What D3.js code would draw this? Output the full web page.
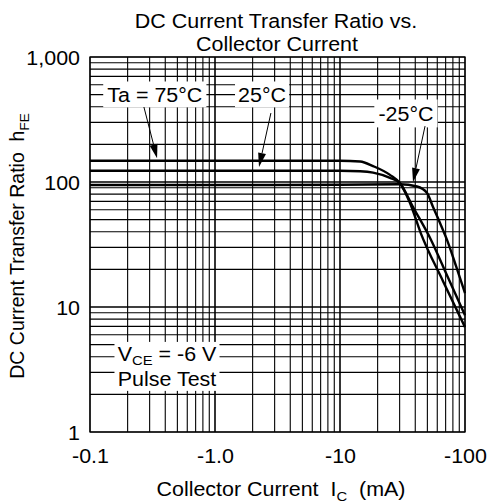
<!DOCTYPE html>
<html><head><meta charset="utf-8">
<script src="https://cdn.jsdelivr.net/npm/d3@7"></script>
<style>
body{margin:0;background:#fff;}
text{font-family:"Liberation Sans",Arial,sans-serif;fill:#000;white-space:pre;}
</style></head>
<body><svg id="c" width="489" height="503"></svg>
<script>
// ---- data ----
const xTickValues = [0.1, 1, 10, 100];
const xTickLabels = ["-0.1", "-1.0", "-10", "-100"];
const yTickValues = [1, 10, 100, 1000];
const yTickLabels = ["1", "10", "100", "1,000"];

const ic75  = [0.1, 1, 10, 14.5, 18.4, 25.1, 30.2, 36.3, 44.5, 66.7, 100];
const hfe75 = [148, 148, 148, 146, 134, 114, 97.6, 67.9, 38.5, 16.1, 6.9];

const ic25  = [0.1, 1, 10, 14.5, 18.4, 25.1, 30.2, 38.4, 53.5, 73.1, 100];
const hfe25 = [123, 123, 123, 122, 119, 108, 97.6, 63, 34.4, 17.2, 8.6];

const icM25  = [0.1, 1, 10, 30.2, 41.3, 49.7, 55.5, 63.1, 71.8, 84.7, 100];
const hfeM25 = [94.6, 94.6, 95, 96, 92, 81.7, 63, 47, 34.4, 21.3, 12.9];

const seriesNames = ["Ta = 75°C", "25°C", "-25°C"];

// ---- layout ----
const FS = 19.5, SX = 1.1, SUB = 13.5;
const svg = d3.select("#c");
const L = 90, R = 465, T = 57, B = 432;
const x = d3.scaleLog().domain([0.1, 100]).range([L, R]);
const y = d3.scaleLog().domain([1, 1000]).range([B, T]);

function stretch(sel, ax) {
  sel.attr("transform", `translate(${ax},0) scale(${SX},1) translate(${-ax},0)`);
}

// grid
const minor = [];
[0.1, 1, 10].forEach(d => { for (let k = 1; k <= 10; k++) minor.push(d * k); });
const minorY = [];
[1, 10, 100].forEach(d => { for (let k = 1; k <= 10; k++) minorY.push(d * k); });
const g = svg.append("g");
g.selectAll("line.vx").data(minor).enter().append("line")
  .attr("x1", d => x(d)).attr("x2", d => x(d)).attr("y1", T).attr("y2", B)
  .attr("stroke", "#000").attr("stroke-width", 1.1);
g.selectAll("line.hy").data(minorY).enter().append("line")
  .attr("y1", d => y(d)).attr("y2", d => y(d)).attr("x1", L).attr("x2", R)
  .attr("stroke", "#000").attr("stroke-width", 1.1);
g.append("rect").attr("x", L).attr("y", T).attr("width", R - L).attr("height", B - T)
  .attr("fill", "none").attr("stroke", "#000").attr("stroke-width", 1.3);

// axes labels
const xAxis = d3.axisBottom(x).tickValues(xTickValues).tickSize(0)
  .tickFormat((d, i) => xTickLabels[i]);
const xa = svg.append("g").attr("transform", `translate(0,${B})`).call(xAxis);
xa.select(".domain").remove();
xa.selectAll("text").attr("dy", 0).attr("y", 31).style("font-size", FS + "px")
  .style("font-family", '"Liberation Sans",Arial,sans-serif')
  .each(function () { stretch(d3.select(this), 0); });

const yAxis = d3.axisLeft(y).tickValues(yTickValues).tickSize(0)
  .tickFormat((d, i) => yTickLabels[i]);
const ya = svg.append("g").attr("transform", `translate(${L},0)`).call(yAxis);
ya.select(".domain").remove();
ya.selectAll("text").attr("x", -10).attr("dy", "0.36em").style("font-size", FS + "px")
  .style("font-family", '"Liberation Sans",Arial,sans-serif')
  .each(function () { stretch(d3.select(this), -10); });

// curves
const line = d3.line().x(d => x(d[0])).y(d => y(d[1])).curve(d3.curveMonotoneX);
const series = [d3.zip(ic75, hfe75), d3.zip(ic25, hfe25), d3.zip(icM25, hfeM25)];
svg.append("g").selectAll("path").data(series).enter().append("path")
  .attr("d", line).attr("fill", "none").attr("stroke", "#000").attr("stroke-width", 2.4);

// title
const t1 = svg.append("text").attr("x", 276).attr("y", 28).attr("text-anchor", "middle")
  .style("font-size", FS + "px").text("DC Current Transfer Ratio vs.");
stretch(t1, 276);
const t2 = svg.append("text").attr("x", 277).attr("y", 51).attr("text-anchor", "middle")
  .style("font-size", FS + "px").text("Collector Current");
stretch(t2, 277);

// x title
const xt = svg.append("text").attr("x", 281).attr("y", 496).attr("text-anchor", "middle").style("font-size", FS + "px");
xt.append("tspan").text("Collector Current  I");
xt.append("tspan").attr("dy", 5).style("font-size", SUB + "px").text("C");
xt.append("tspan").attr("dy", -5).text("  (mA)");
stretch(xt, 281);

// y title
const yt = svg.append("text").attr("transform", `translate(24,246) rotate(-90)`)
  .attr("text-anchor", "middle").style("font-size", FS + "px");
yt.append("tspan").text("DC Current Transfer Ratio  h");
yt.append("tspan").attr("dy", 5).style("font-size", SUB + "px").text("FE");

// annotations (in data coords)
function boxedText(lines, cx, baselines, pad) {
  const grp = svg.append("g");
  const bg = grp.append("rect").attr("fill", "#fff");
  const t = grp.append("text").attr("text-anchor", "middle").style("font-size", FS + "px");
  lines.forEach((ln, i) => {
    const ts = t.append("tspan").attr("x", x(cx)).attr("y", y(baselines[i]));
    ln.forEach(part => {
      const s = ts.append("tspan").text(part.t);
      if (part.sub) s.attr("dy", 4).style("font-size", SUB + "px");
      if (part.up) s.attr("dy", -4);
    });
  });
  stretch(t, x(cx));
  const bb = t.node().getBBox();
  const w = bb.width * SX;
  bg.attr("x", x(cx) - w / 2 - pad[0]).attr("y", bb.y - pad[1]).attr("width", w + 2 * pad[0]).attr("height", bb.height + 2 * pad[1]);
}
function arrow(x0, y0, x1, y1) {
  const px0 = x(x0), py0 = y(y0), px1 = x(x1), py1 = y(y1);
  const a = Math.atan2(py1 - py0, px1 - px0);
  const len = 14, w = 4;
  const bx = px1 - len * Math.cos(a), by = py1 - len * Math.sin(a);
  svg.append("line").attr("x1", px0).attr("y1", py0).attr("x2", bx).attr("y2", by)
    .attr("stroke", "#000").attr("stroke-width", 1);
  const pts = [[px1, py1], [bx + w * Math.sin(a), by - w * Math.cos(a)], [bx - w * Math.sin(a), by + w * Math.cos(a)]];
  svg.append("polygon").attr("points", pts.map(p => p.join(",")).join(" ")).attr("fill", "#000");
}

boxedText([[{t: seriesNames[0]}]], 0.33, [440], [4, 2]);
boxedText([[{t: seriesNames[1]}]], 2.38, [440], [3, 2]);
boxedText([[{t: seriesNames[2]}]], 33.7, [310], [4, 3]);
boxedText([[{t: "V"}, {t: "CE", sub: true}, {t: " = -6 V", up: true}], [{t: "Pulse Test"}]], 0.413, [3.7, 2.33], [3, 1]);

arrow(0.27, 398, 0.344, 155);
arrow(2.8, 356, 2.25, 132);
arrow(47.9, 280, 38.4, 100);
</script></body></html>
